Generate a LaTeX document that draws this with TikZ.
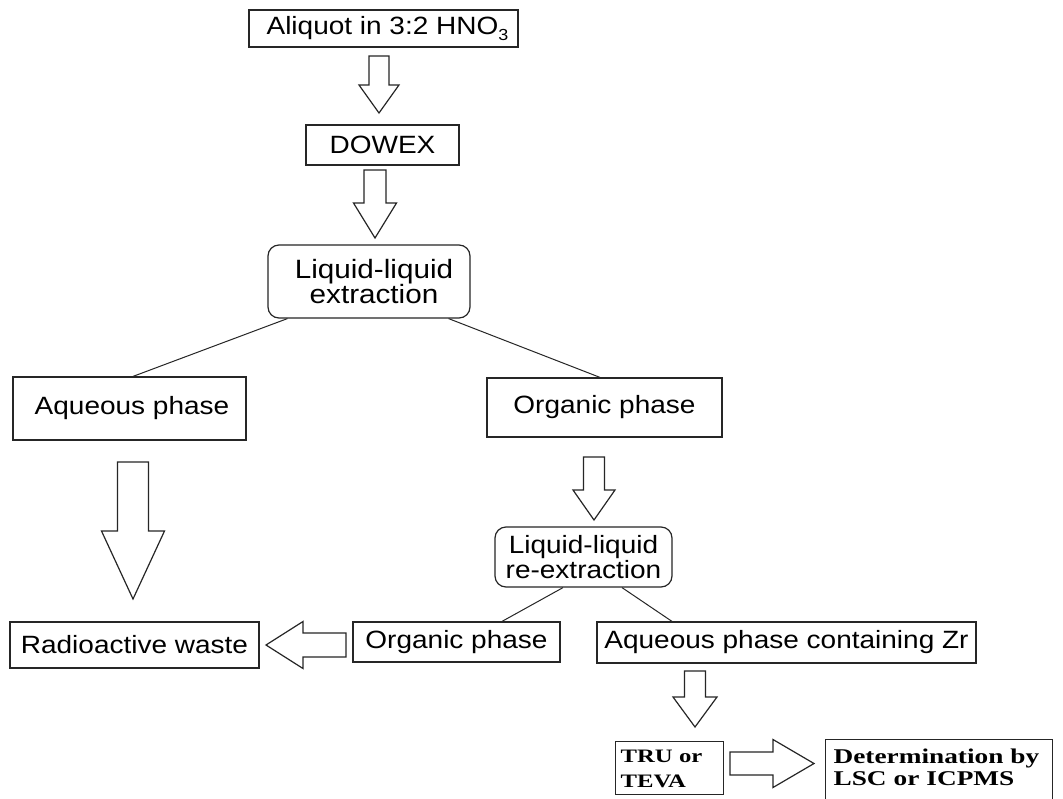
\documentclass[tikz,border=0pt]{standalone}
\usepackage{fontspec}
\setmainfont{Liberation Serif}
\newfontfamily\arialx[FakeStretch=1.12]{Liberation Sans}
\newfontfamily\timesx[FakeStretch=1.3]{Liberation Serif}
\usetikzlibrary{calc}
\tikzset{
  box/.style={draw=black!85, line width=1.2pt, inner sep=0pt, align=center,
    font=\arialx\fontsize{25}{25}\selectfont},
  rbox/.style={box, rounded corners=11pt},
  sbox/.style={draw=black!85, line width=1.2pt, inner ysep=0pt, align=left},
  link/.style={draw=black!85, line width=1pt},
  blk/.style={draw=black!85, line width=1.2pt, fill=white, line join=miter},
}
% block arrow pointing down: cx, top, base, tip, shaft half, head half
\newcommand\blkdown[6]{%
  \draw[blk] ({#1-#5},#2) -- ({#1+#5},#2) -- ({#1+#5},#3) -- ({#1+#6},#3)
    -- (#1,#4) -- ({#1-#6},#3) -- ({#1-#5},#3) -- cycle;}
% block arrow horizontal: cy, tail, base, tip, shaft half, head half
\newcommand\blkside[6]{%
  \draw[blk] (#2,{#1-#5}) -- (#3,{#1-#5}) -- (#3,{#1-#6}) -- (#4,#1)
    -- (#3,{#1+#6}) -- (#3,{#1+#5}) -- (#2,{#1+#5}) -- cycle;}
\begin{document}
\begin{tikzpicture}[x=1pt,y=-1pt]
\clip (0,0) rectangle (1063,798);
\fill[white] (0,0) rectangle (1063,798);

% boxes
\node[box, minimum width=269pt, minimum height=37pt] (aliq) at (383.5,28.5)
  {\hspace*{8pt}Aliquot in 3:2 HNO\raisebox{-0.25em}{\fontsize{16}{16}\selectfont 3}};
\node[box, minimum width=153pt, minimum height=40pt] (dowex) at (382.5,145) {DOWEX};
\node[rbox, minimum width=202pt, minimum height=73pt,
  font=\arialx\fontsize{26.5}{25}\selectfont] (lle) at (369,281.5)
  {\hspace*{10pt}Liquid-liquid\\\hspace*{10pt}extraction};
\node[box, minimum width=233pt, minimum height=63pt] (aq) at (129.5,408.5)
  {\hspace*{5pt}Aqueous phase};
\node[box, minimum width=235pt, minimum height=59pt] (org) at (604.5,407.5)
  {\raisebox{-4pt}{Organic phase}};
\node[rbox, minimum width=177pt, minimum height=60pt] (lre) at (583.5,557)
  {Liquid-liquid\\re-extraction};
\node[box, minimum width=249pt, minimum height=46pt] (rw) at (134.5,645)
  {Radioactive waste};
\node[box, minimum width=207pt, minimum height=40pt] (org2) at (456.5,642)
  {Organic phase};
\node[box, minimum width=379pt, minimum height=41pt] (zr) at (786.5,642.5)
  {Aqueous phase containing Zr};
\node[sbox, anchor=north west, inner xsep=5pt, text width=98pt,
  text height=21pt, text depth=32pt,
  font=\timesx\bfseries\fontsize{19}{25}\selectfont] (tru) at (615,741)
  {TRU or\\TEVA};
\node[sbox, anchor=north west, inner xsep=8pt, text width=211pt,
  text height=24pt, text depth=60pt,
  font=\timesx\bfseries\fontsize{21}{22}\selectfont] (det) at (825,739)
  {Determination by\\LSC or ICPMS};

% thin connectors
\draw[link] ([xshift=20pt]lle.south west) -- ([xshift=3.5pt]aq.north);
\draw[link] ([xshift=-22pt]lle.south east) -- ([xshift=-4.5pt]org.north);
\draw[link] ([xshift=-20.5pt]lre.south) -- ([xshift=45.5pt]org2.north);
\draw[link] ([xshift=38.5pt]lre.south) -- ([xshift=-114.5pt]zr.north);

% block arrows
\blkdown{379}{56}{85}{113}{10}{20}
\blkdown{375}{170}{203}{238}{11}{21.5}
\blkdown{133}{462}{531}{599}{15.5}{31.5}
\blkdown{594}{457}{490}{520}{10.5}{21}
\blkside{645}{346}{303}{266}{12}{23.5}
\blkdown{695}{671}{697}{727}{10.5}{22}
\blkside{763.5}{730}{773}{814}{11.5}{24}
\end{tikzpicture}
\end{document}
